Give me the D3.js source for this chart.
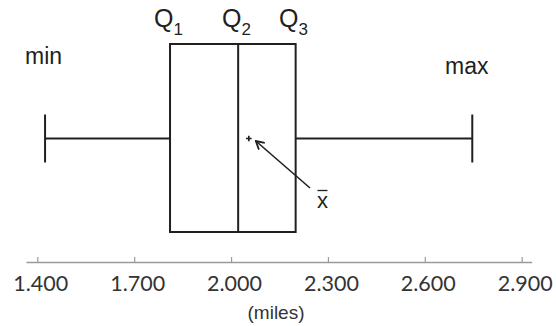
<!DOCTYPE html>
<html><head><meta charset="utf-8">
<script src="https://cdn.jsdelivr.net/npm/d3@7"></script>
<style>
html,body{margin:0;padding:0;background:#fff;}
svg{display:block;}
</style></head>
<body>
<svg id="chart" width="556" height="326"></svg>
<script>
// ---- data ----
const statNames  = ["min", "Q1", "median", "Q3", "max"];
const statValues = [1.424, 1.811, 2.022, 2.200, 2.747];
const meanValue  = 2.055;
const tickValues = [1.4, 1.7, 2.0, 2.3, 2.6, 2.9];
const tickLabels = ["1.400", "1.700", "2.000", "2.300", "2.600", "2.900"];
const axisTitle  = "(miles)";

// ---- layout ----
const W = 556, H = 326;
const axisY = 262;
const boxTop = 44, boxBottom = 232, midY = 138.5, capHalf = 24;
const ink = "#231f20";

const svg = d3.select("#chart");
const x = d3.scaleLinear().domain([1.365, 2.931]).range([26, 531.7]);
const stat = Object.fromEntries(statNames.map((n, i) => [n, statValues[i]]));

// axis
const axis = d3.axisBottom(x)
  .tickValues(tickValues)
  .tickFormat((d, i) => tickLabels[i])
  .tickSizeInner(-5).tickSizeOuter(0).tickPadding(13.4);
const gA = svg.append("g").attr("transform", `translate(0,${axisY})`).call(axis);
gA.select(".domain").attr("stroke", "#9a9a9a").attr("stroke-width", 1.6);
gA.selectAll(".tick line").attr("stroke", "#9a9a9a").attr("stroke-width", 1.2);
gA.selectAll(".tick text")
  .attr("font-family", "Lato, 'Open Sans', sans-serif")
  .attr("font-size", 21.5).attr("fill", "#333").attr("dx", 3);

svg.append("text").attr("x", 276).attr("y", 319)
  .attr("text-anchor", "middle").attr("font-family", "'Liberation Sans', Arial, sans-serif")
  .attr("font-size", 19).attr("fill", "#333").text(axisTitle);

// whiskers
const lineAttrs = sel => sel.attr("stroke", ink).attr("stroke-width", 2).attr("fill", "none");
svg.append("line").attr("x1", x(stat.min)).attr("x2", x(stat.Q1)).attr("y1", midY).attr("y2", midY).call(lineAttrs);
svg.append("line").attr("x1", x(stat.Q3)).attr("x2", x(stat.max)).attr("y1", midY).attr("y2", midY).call(lineAttrs);
[stat.min, stat.max].forEach(v => {
  svg.append("line").attr("x1", x(v)).attr("x2", x(v))
    .attr("y1", midY - capHalf).attr("y2", midY + capHalf).call(lineAttrs);
});

// box
svg.append("rect").attr("x", x(stat.Q1)).attr("y", boxTop)
  .attr("width", x(stat.Q3) - x(stat.Q1)).attr("height", boxBottom - boxTop).call(lineAttrs);
svg.append("line").attr("x1", x(stat.median)).attr("x2", x(stat.median))
  .attr("y1", boxTop).attr("y2", boxBottom).call(lineAttrs);

// mean marker
const mx = x(meanValue), my = midY;
svg.append("path").attr("d", `M${mx-2.8},${my}H${mx+2.8}M${mx},${my-2.8}V${my+2.8}`)
  .attr("stroke", ink).attr("stroke-width", 1.7);

// arrow
svg.append("defs").append("marker").attr("id", "arr")
  .attr("viewBox", "0 0 10 10").attr("refX", 9).attr("refY", 5)
  .attr("markerWidth", 10).attr("markerHeight", 10).attr("markerUnits", "userSpaceOnUse")
  .attr("orient", "auto")
  .append("path").attr("d", "M1,0.5L9,5L1,9.5").attr("fill", "none").attr("stroke", ink).attr("stroke-width", 1.8);
svg.append("line").attr("x1", 310).attr("y1", 188).attr("x2", mx + 7).attr("y2", my + 2.5)
  .attr("stroke", ink).attr("stroke-width", 1.6).attr("marker-end", "url(#arr)");

// x-bar label
const tf = "'Liberation Sans', Arial, sans-serif";
svg.append("text").attr("x", 322.5).attr("y", 208).attr("text-anchor", "middle")
  .attr("font-family", tf).attr("font-size", 22).attr("fill", ink).text("x");
svg.append("line").attr("x1", 317.5).attr("x2", 327.5).attr("y1", 190.5).attr("y2", 190.5)
  .attr("stroke", ink).attr("stroke-width", 1.3);

// min / max labels
svg.append("text").attr("x", 25).attr("y", 64).attr("font-family", tf)
  .attr("font-size", 23).attr("fill", ink).text("min");
svg.append("text").attr("x", 445).attr("y", 74).attr("font-family", tf)
  .attr("font-size", 23).attr("fill", ink).text("max");

// Q labels
const qs = [["Q", "1", stat.Q1, 154], ["Q", "2", stat.median, 222], ["Q", "3", stat.Q3, 279]];
qs.forEach(([q, s, v, lx]) => {
  const t = svg.append("text").attr("x", lx).attr("y", 27).attr("font-family", tf)
    .attr("font-size", 25).attr("fill", ink);
  t.append("tspan").text(q);
  t.append("tspan").attr("font-size", 17).attr("dy", 8).text(s);
});
</script>
</body></html>
